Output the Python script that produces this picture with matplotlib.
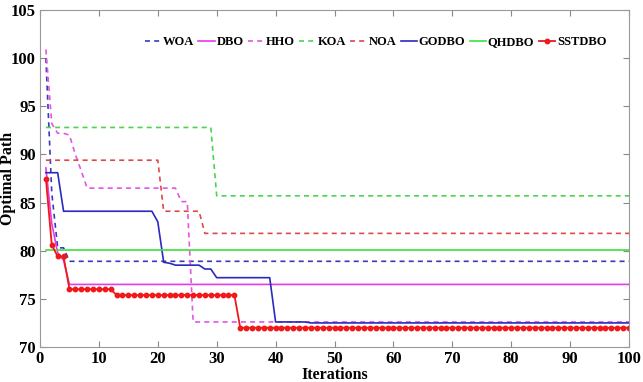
import numpy as np
import matplotlib.pyplot as plt

iters = np.arange(1, 101)

woa = [100.0, 86.0, 80.3, 80.3] + [78.9] * 96
dbo = [88.6, 82.8, 79.8, 79.0] + [76.5] * 96
hho = ([100.9, 93.2, 92.2, 92.2, 92.0, 90.0, 88.3] + [86.5] * 15 +
       [86.5, 85.1, 85.1] + [72.6] * 75)
koa = [92.8] * 29 + [85.7] * 71
noa = [89.4] * 20 + [84.1] * 7 + [81.8] * 73
godbo = ([88.1] * 3 + [84.1] * 16 + [83.0, 78.8, 78.7] + [78.5] * 5 +
         [78.1] * 2 + [77.2] * 10 + [72.6] * 6 + [72.5] * 55)
qhdbo = [80.1] * 100
sstdbo = [87.5, 80.6, 79.4, 79.4] + [76.0] * 8 + [75.4] * 21 + [72.0] * 67

series = [
    ("WOA", woa, "#3a3ab8", "--", None),
    ("DBO", dbo, "#e83ae8", "-", None),
    ("HHO", hho, "#e455e4", "--", None),
    ("KOA", koa, "#4cd44c", "--", None),
    ("NOA", noa, "#e04848", "--", None),
    ("GODBO", godbo, "#2a2ac0", "-", None),
    ("QHDBO", qhdbo, "#3ee03e", "-", None),
    ("SSTDBO", sstdbo, "#f01818", "-", "o"),
]

plt.rcParams['font.family'] = 'Liberation Serif'
plt.rcParams['font.weight'] = 'bold'

fig = plt.figure(figsize=(6.43, 3.82), dpi=100)
ax = fig.add_axes([40 / 643, 1 - 347 / 382, 589 / 643, 337 / 382])

for name, vals, color, ls, mk in series:
    if mk:
        ax.plot(iters, vals, color=color, linestyle=ls, linewidth=1.3,
                marker=mk, markersize=3.2, label=name)
    else:
        ax.plot(iters, vals, color=color, linestyle=ls, linewidth=1.2,
                dashes=(3, 2.5) if ls == "--" else (None, None), label=name)

ax.set_xlim(0, 100)
ax.set_ylim(70, 105)
ax.set_xticks(np.arange(0, 101, 10))
ax.set_yticks(np.arange(70, 106, 5))
ax.tick_params(direction='in', top=True, right=True, labelsize=12,
               length=4, width=0.8, color='#888888', pad=3)
for s in ax.spines.values():
    s.set_color('#999999')
    s.set_linewidth(0.8)
for lab in ax.get_xticklabels() + ax.get_yticklabels():
    lab.set_fontweight('bold')

ax.set_xlabel("Iterations", fontsize=11.5, fontweight='bold', labelpad=0)
ax.set_ylabel("Optimal Path", fontsize=11.5, fontweight='bold')
ax.yaxis.set_label_coords(-0.041, 0.5)

ax.legend(loc='center right', bbox_to_anchor=(0.97, 0.905), ncol=8,
          frameon=False, handlelength=1.3, handletextpad=0.15,
          columnspacing=0.35, borderaxespad=0.0,
          prop={'weight': 'bold', 'size': 9})

fig.savefig("out.png", dpi=100)
